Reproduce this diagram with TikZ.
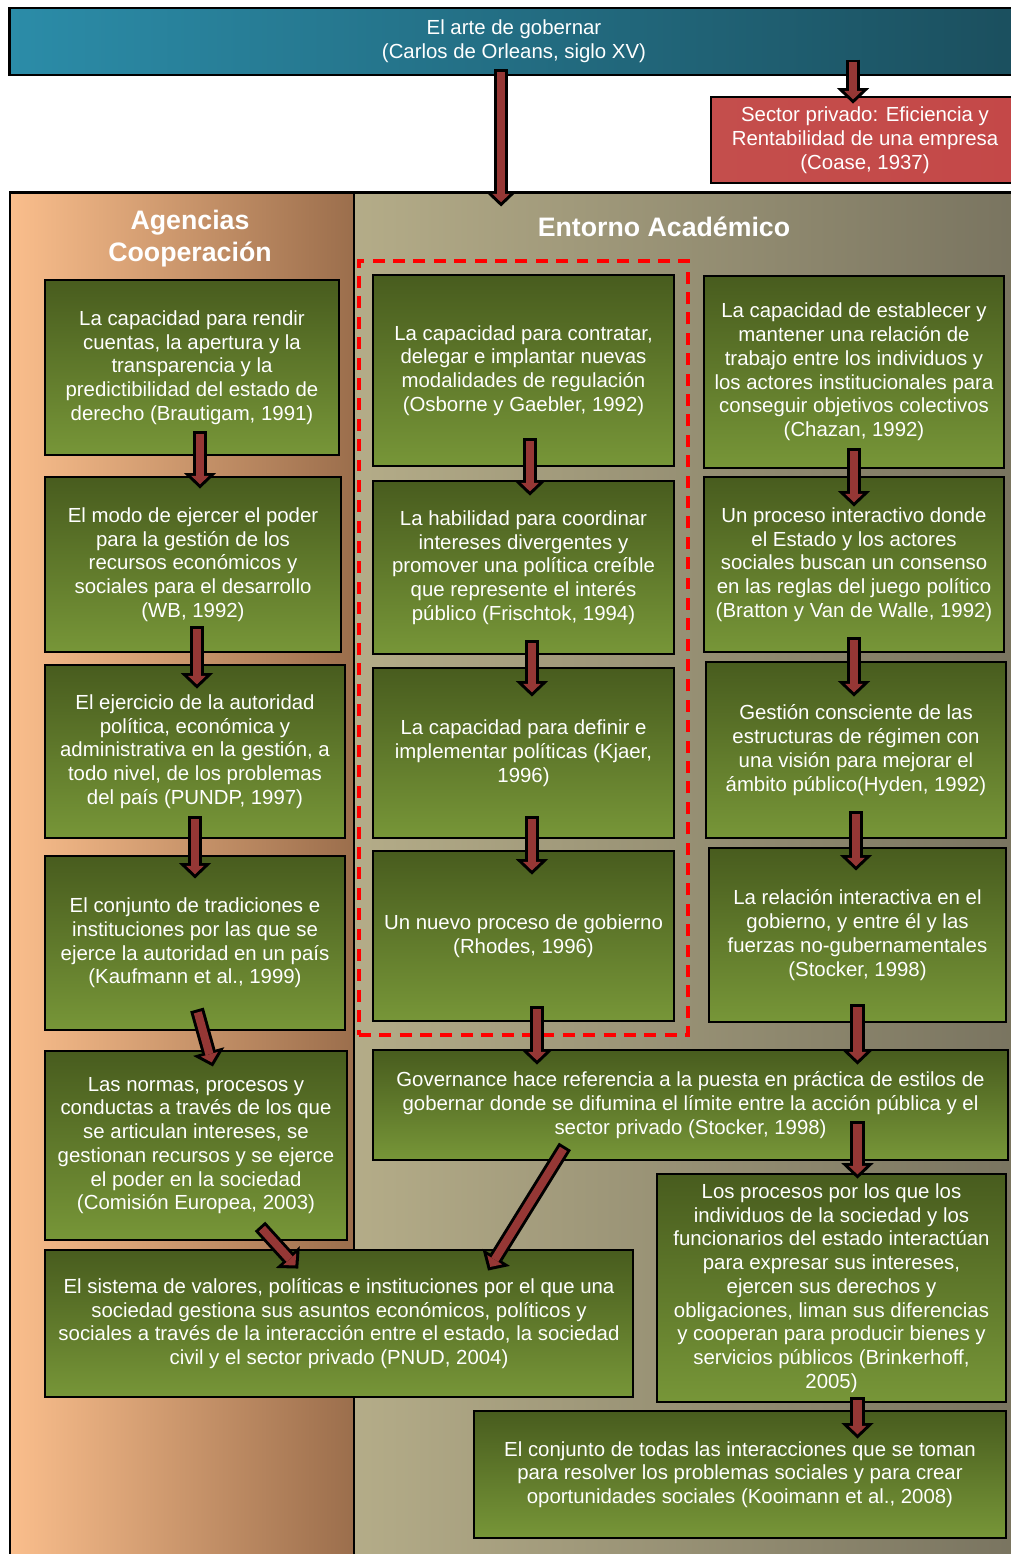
\documentclass[tikz,border=0pt]{standalone}
\usepackage{fontspec}
\setmainfont{Liberation Sans}
\usetikzlibrary{arrows.meta, positioning, fit}

\definecolor{boxtop}{RGB}{72,92,30}
\definecolor{boxbot}{RGB}{119,150,56}
\definecolor{bannerleft}{RGB}{43,140,168}
\definecolor{bannerright}{RGB}{27,79,94}
\definecolor{privleft}{RGB}{196,78,76}
\definecolor{privmid}{RGB}{140,44,44}
\definecolor{privright}{RGB}{196,72,72}
\definecolor{agleft}{RGB}{250,190,140}
\definecolor{agright}{RGB}{155,110,76}
\definecolor{enleft}{RGB}{180,172,136}
\definecolor{enright}{RGB}{120,115,95}
\definecolor{arrowred}{RGB}{149,55,53}
\definecolor{dashred}{RGB}{255,0,0}

\begin{document}
\begin{tikzpicture}[
    x=0.025cm, y=-0.025cm,
    txt/.style={font=\fontsize{14.5}{16.9}\selectfont, text=white, align=center},
    heading/.style={font=\fontsize{19}{22.8}\selectfont\bfseries, text=white, align=center},
    panel/.style={rectangle, draw=black, line width=2pt, inner sep=0pt},
    banner/.style={rectangle, draw=black, line width=2pt, left color=bannerleft, right color=bannerright, txt},
    privado/.style={rectangle, draw=black, line width=2pt, left color=privleft, middle color=privmid, right color=privright, txt},
    concept/.style={rectangle, draw=black, line width=2pt, top color=boxtop, bottom color=boxbot, txt, inner sep=2pt},
    cluster/.style={draw=dashred, line width=2.3pt, dash pattern=on 8.5pt off 6pt, inner sep=9pt},
    flow/.style 2 args={draw=black, line width=10pt, shorten <=-#1, shorten >=-#2,
        -{Triangle[length=11pt, width=23pt, line width=0pt]},
        postaction={draw=arrowred, line width=5.8pt, shorten <=-#1+2.1pt, shorten >=-#2+3pt,
        -{Triangle[length=6pt, width=12.5pt, line width=0pt]}}}
]
    \clip (0,0) rectangle (1011,1554);

    % Background panels
    \node[panel, left color=agleft, right color=agright, minimum width=8.6cm, minimum height=34.425cm] (agencias) at (182, 881.5) {};
    \node[panel, left color=enleft, right color=enright, minimum width=16.9cm, minimum height=34.425cm] (entorno) at (692, 881.5) {};
    \node[heading] (agtitle) at (190, 239) {Agencias\\Cooperación};
    \node[heading] (entitle) at (664, 227) {Entorno Académico};

    % Top
    \node[banner, minimum width=25.2cm, minimum height=1.675cm] (arte) at (514, 41.5) {El arte de gobernar\\(Carlos de Orleans, siglo XV)};
    \node[privado, minimum width=7.7cm, minimum height=2.15cm] (sector) at (865, 140) {Sector privado: Eficiencia y\\Rentabilidad de una empresa\\(Coase, 1937)};

    % Agencias column
    \node[concept, minimum width=7.35cm, minimum height=4.375cm] (L1) at (192, 367.5) {La capacidad para rendir\\cuentas, la apertura y la\\transparencia y la\\predictibilidad del estado de\\derecho (Brautigam, 1991)};
    \node[concept, minimum width=7.4cm, minimum height=4.375cm] (L2) at (193, 564.5) {El modo de ejercer el poder\\para la gestión de los\\recursos económicos y\\sociales para el desarrollo\\(WB, 1992)};
    \node[concept, minimum width=7.5cm, minimum height=4.325cm] (L3) at (195, 751.5) {El ejercicio de la autoridad\\política, económica y\\administrativa en la gestión, a\\todo nivel, de los problemas\\del país (PUNDP, 1997)};
    \node[concept, minimum width=7.5cm, minimum height=4.35cm] (L4) at (195, 943) {El conjunto de tradiciones e\\instituciones por las que se\\ejerce la autoridad en un país\\(Kaufmann et al., 1999)};
    \node[concept, minimum width=7.55cm, minimum height=4.725cm] (L5) at (196, 1145.5) {Las normas, procesos y\\conductas a través de los que\\se articulan intereses, se\\gestionan recursos y se ejerce\\el poder en la sociedad\\(Comisión Europea, 2003)};
    \node[concept, minimum width=14.7cm, minimum height=3.675cm] (L6) at (339, 1323.5) {El sistema de valores, políticas e instituciones por el que una\\sociedad gestiona sus asuntos económicos, políticos y\\sociales a través de la interacción entre el estado, la sociedad\\civil y el sector privado (PNUD, 2004)};

    % Entorno, middle column
    \node[concept, minimum width=7.525cm, minimum height=4.775cm] (M1) at (523.5, 370.5) {La capacidad para contratar,\\delegar e implantar nuevas\\modalidades de regulación\\(Osborne y Gaebler, 1992)};
    \node[concept, minimum width=7.525cm, minimum height=4.325cm] (M2) at (523.5, 567.5) {La habilidad para coordinar\\intereses divergentes y\\promover una política creíble\\que represente el interés\\público (Frischtok, 1994)};
    \node[concept, minimum width=7.525cm, minimum height=4.25cm] (M3) at (523.5, 753) {La capacidad para definir e\\implementar políticas (Kjaer,\\1996)};
    \node[concept, minimum width=7.525cm, minimum height=4.25cm] (M4) at (523.5, 936) {Un nuevo proceso de gobierno\\(Rhodes, 1996)};
    \node[cluster, fit=(M1)(M4)] (dashed) {};

    % Entorno, right column
    \node[concept, minimum width=7.5cm, minimum height=4.8cm] (R1) at (854, 372) {La capacidad de establecer y\\mantener una relación de\\trabajo entre los individuos y\\los actores institucionales para\\conseguir objetivos colectivos\\(Chazan, 1992)};
    \node[concept, minimum width=7.5cm, minimum height=4.375cm] (R2) at (854, 564.5) {Un proceso interactivo donde\\el Estado y los actores\\sociales buscan un consenso\\en las reglas del juego político\\(Bratton y Van de Walle, 1992)};
    \node[concept, minimum width=7.5cm, minimum height=4.4cm] (R3) at (856, 750) {Gestión consciente de las\\estructuras de régimen con\\una visión para mejorar el\\ámbito público(Hyden, 1992)};
    \node[concept, minimum width=7.425cm, minimum height=4.35cm] (R4) at (857.5, 935) {La relación interactiva en el\\gobierno, y entre él y las\\fuerzas no-gubernamentales\\(Stocker, 1998)};
    \node[concept, minimum width=15.875cm, minimum height=2.75cm] (gov) at (690.5, 1105) {Governance hace referencia a la puesta en práctica de estilos de\\gobernar donde se difumina el límite entre la acción pública y el\\sector privado (Stocker, 1998)};
    \node[concept, minimum width=8.725cm, minimum height=5.7cm] (R5) at (831.5, 1288) {Los procesos por los que los\\individuos de la sociedad y los\\funcionarios del estado interactúan\\para expresar sus intereses,\\ejercen sus derechos y\\obligaciones, liman sus diferencias\\y cooperan para producir bienes y\\servicios públicos (Brinkerhoff,\\2005)};
    \node[concept, minimum width=13.3cm, minimum height=3.175cm] (R6) at (740, 1474.5) {El conjunto de todas las interacciones que se toman\\para resolver los problemas sociales y para crear\\oportunidades sociales (Kooimann et al., 2008)};

    % Arrows
    \draw[flow={5pt}{10.7pt}] ([xshift=-9.2pt]arte.south) -- ([xshift=-9.2pt]arte.south |- entorno.north);
    \draw[flow={12pt}{5.7pt}] ([xshift=-8.5pt]sector.north |- arte.south) -- ([xshift=-8.5pt]sector.north);
    \draw[flow={17.8pt}{9.2pt}] ([xshift=5.7pt]L1.south) -- ([xshift=5.7pt]L1.south |- L2.north);
    \draw[flow={19.2pt}{17.8pt}] ([xshift=2.8pt]L2.south) -- ([xshift=2.8pt]L2.south |- L3.north);
    \draw[flow={16.4pt}{17pt}] (L3.south) -- (L3.south |- L4.north);
    \draw[flow={0pt}{0pt}] ([xshift=1.4pt, yshift=15.6pt]L4.south) -- ([xshift=12pt, yshift=-12pt]L5.north);
    \draw[flow={0pt}{0pt}] ([xshift=45.5pt, yshift=10.7pt]L5.south) -- ([xshift=-29pt, yshift=-14.2pt]L6.north);
    \draw[flow={0pt}{0pt}] ([xshift=-89.3pt, yshift=10.7pt]gov.south) -- ([xshift=106pt, yshift=-15.6pt]L6.north);
    \draw[flow={20.6pt}{11.4pt}] ([xshift=4.6pt]M1.south) -- ([xshift=4.6pt]M1.south |- M2.north);
    \draw[flow={10.7pt}{21.3pt}] ([xshift=6pt]M2.south) -- ([xshift=6pt]M2.south |- M3.north);
    \draw[flow={16.4pt}{17.8pt}] ([xshift=6pt]M3.south) -- ([xshift=6pt]M3.south |- M4.north);
    \draw[flow={11.4pt}{11.4pt}] ([xshift=9.6pt]M4.south) -- ([xshift=9.6pt]M4.south |- gov.north);
    \draw[flow={15pt}{22pt}] (R1.south) -- (R1.south |- R2.north);
    \draw[flow={11.4pt}{25.6pt}] (R2.south) -- (R2.south |- R3.north);
    \draw[flow={20pt}{17pt}] (R3.south) -- (R3.south |- R4.north);
    \draw[flow={13.5pt}{11.4pt}] (R4.south) -- (R4.south |- gov.north);
    \draw[flow={28.5pt}{4.3pt}] (R4.south |- gov.south) -- (R4.south |- R5.north);
    \draw[flow={4.3pt}{20.6pt}] (R4.south |- R5.south) -- (R4.south |- R6.north);

\end{tikzpicture}
\end{document}
